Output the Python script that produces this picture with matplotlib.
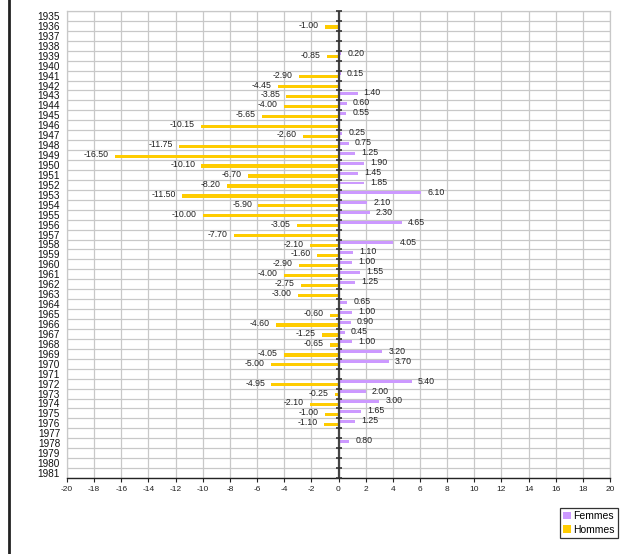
import numpy as np
import matplotlib
matplotlib.use('Agg')
import matplotlib.pyplot as plt

plt.rcParams['font.family'] = ['Liberation Sans', 'DejaVu Sans']
plt.rcParams['axes.unicode_minus'] = False

# années (de haut en bas)
annees = list(range(1935, 1982))

# valeurs par année, nan = pas de barre
femmes = [np.nan, np.nan, np.nan, np.nan, 0.20, np.nan, 0.15, np.nan, 1.40, 0.60,
          0.55, np.nan, 0.25, 0.75, 1.25, 1.90, 1.45, 1.85, 6.10, 2.10,
          2.30, 4.65, np.nan, 4.05, 1.10, 1.00, 1.55, 1.25, np.nan, 0.65,
          1.00, 0.90, 0.45, 1.00, 3.20, 3.70, np.nan, 5.40, 2.00, 3.00,
          1.65, 1.25, np.nan, 0.80, np.nan, np.nan, np.nan]
hommes = [np.nan, -1.00, np.nan, np.nan, -0.85, np.nan, -2.90, -4.45, -3.85, -4.00,
          -5.65, -10.15, -2.60, -11.75, -16.50, -10.10, -6.70, -8.20, -11.50, -5.90,
          -10.00, -3.05, -7.70, -2.10, -1.60, -2.90, -4.00, -2.75, -3.00, np.nan,
          -0.60, -4.60, -1.25, -0.65, -4.05, -5.00, np.nan, -4.95, -0.25, -2.10,
          -1.00, -1.10, np.nan, np.nan, np.nan, np.nan, np.nan]

col_f = '#CC99FF'
col_h = '#FFCC00'

fig = plt.figure(figsize=(6.2, 5.54), dpi=100)
ax = fig.add_axes([67 / 620, 1 - 478 / 554, 543 / 620, 467 / 554])

y = np.arange(len(annees))
f = np.array(femmes)
h = np.array(hommes)

ax.barh(y - 0.19, np.nan_to_num(f), height=0.3, color=col_f, label='Femmes', zorder=3)
ax.barh(y + 0.11, np.nan_to_num(h), height=0.33, color=col_h, label='Hommes', zorder=3)

# étiquettes de valeurs
for i in range(len(annees)):
    if not np.isnan(f[i]):
        ax.annotate('%.2f' % f[i], (f[i], y[i] - 0.25), xytext=(4.5, 0),
                    textcoords='offset points', ha='left', va='center',
                    fontsize=6.3, color='#222222')
    if not np.isnan(h[i]):
        ax.annotate('%.2f' % h[i], (h[i], y[i] - 0.05), xytext=(-4.5, 0),
                    textcoords='offset points', ha='right', va='center',
                    fontsize=6.3, color='#222222')

ax.set_xlim(-20, 20)
ax.set_ylim(len(annees) - 0.5, -0.5)

ax.set_xticks(np.arange(-20, 21, 2))
ax.set_yticks(y)
ax.set_yticklabels([str(a) for a in annees], fontsize=7.2, color='#111111')
ax.tick_params(axis='y', length=0, pad=5)
ax.tick_params(axis='x', length=3, width=0.8, direction='out', pad=3,
               labelsize=6, colors='#222222')

# grille
ax.set_yticks(np.arange(-0.5, len(annees), 1), minor=True)
ax.grid(True, which='minor', axis='y', color='#C8C8C8', lw=0.9, zorder=0)
ax.grid(True, which='major', axis='x', color='#C8C8C8', lw=0.9, zorder=0)
ax.tick_params(axis='y', which='minor', length=0)

# axe vertical au zéro avec ses graduations
ax.axvline(0, color='#444444', lw=1.6, zorder=4)
ax.plot(np.zeros(len(annees) + 1), np.arange(-0.5, len(annees), 1), ls='none',
        marker='_', ms=4, mew=1.2, color='#333333', zorder=5, clip_on=False)

for s in ['left', 'top', 'right']:
    ax.spines[s].set_color('#C8C8C8')
    ax.spines[s].set_linewidth(0.9)
ax.spines['bottom'].set_color('#222222')
ax.spines['bottom'].set_linewidth(1.0)

leg = fig.legend(loc='upper right', bbox_to_anchor=(618 / 620, 1 - 508 / 554),
                 fontsize=7.5, frameon=True, fancybox=False, borderpad=0.3,
                 handlelength=0.8, handleheight=0.8, handletextpad=0.2,
                 labelspacing=0.35, borderaxespad=0)
leg.get_frame().set_edgecolor('black')
leg.get_frame().set_linewidth(0.9)

# trait du cadre à gauche
fig.add_artist(plt.Line2D([9 / 620, 9 / 620], [0, 1], color='#222222', lw=2))

fig.savefig('out.png', dpi=100)
